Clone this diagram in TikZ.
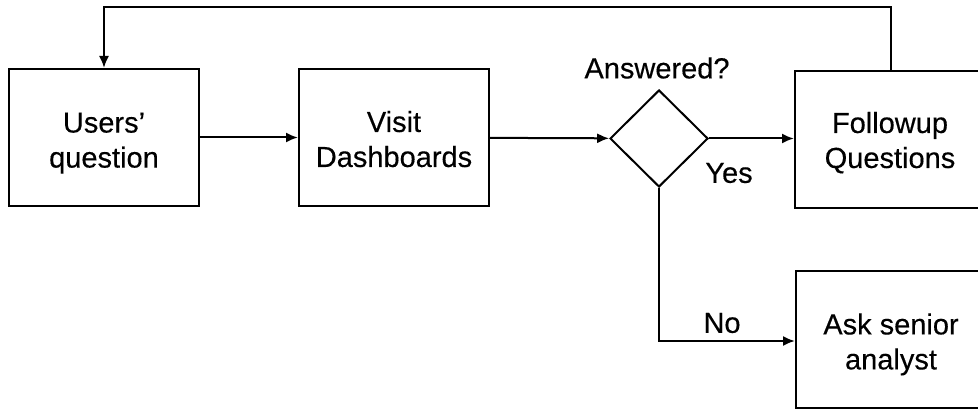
\documentclass[tikz,border=0pt]{standalone}
\usepackage{fontspec}
\setmainfont{Liberation Sans}[FakeBold=0.4]
\usetikzlibrary{arrows.meta,shapes.geometric}
\begin{document}
\begin{tikzpicture}[x=0.5pt,y=-0.5pt,
  every node/.style={font=\fontsize{14.5pt}{17.5pt}\selectfont\addfontfeature{FakeBold=0.35}, text=black},
  procbox/.style={draw, line width=1pt, minimum width=95pt, minimum height=68.5pt, inner sep=0pt},
  boxtext/.style={align=center, inner sep=0pt},
  decision/.style={draw, line width=1pt, diamond, minimum width=49pt, minimum height=48.5pt, inner sep=0pt},
  flow/.style={line width=1pt, -{Latex[length=6pt,width=5pt]}}]
  \useasboundingbox (0,0) rectangle (978,410);
  \fill[white] (0,0) rectangle (978,410);

  % process boxes and the decision
  \node[procbox] (users) at (104,137.5) {};
  \node[procbox] (dash) at (394,137.5) {};
  \node[decision] (ans) at (659,138.5) {};
  \node[procbox] (follow) at (890,139.5) {};
  \node[procbox] (senior) at (891,340) {};

  % box captions
  \node[boxtext, yshift=-2.8pt] (users-t) at (users) {Users’\\question};
  \node[boxtext, yshift=-0.8pt] (dash-t) at (dash) {Visit\\Dashboards};
  \node[boxtext, yshift=-1.6pt] (follow-t) at (follow) {Followup\\Questions};
  \node[boxtext, yshift=-2.2pt] (senior-t) at (senior) {Ask senior\\analyst};

  % branch labels
  \node (lblans) at (657,68) {Answered?};
  \node (lblyes) at (729,173) {Yes};
  \node (lblno) at (722,323) {No};

  \coordinate (topright) at (891,7);
  \coordinate (topleft) at (104,7);
  \coordinate (corner) at (659,341);

  \draw[flow] (users) -- (dash);
  \draw[flow] (dash) -- (ans);
  \draw[flow] (ans.east) -- (follow.west |- ans.east);
  \draw[flow] (ans.south) -- (corner) -- (senior.west |- corner);
  \draw[flow] (follow.north -| topright) -- (topright) -- (topleft) -- (users.north);
\end{tikzpicture}
\end{document}
